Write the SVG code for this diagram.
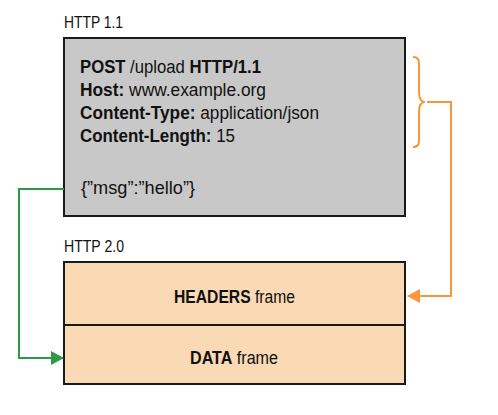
<svg xmlns="http://www.w3.org/2000/svg" width="498" height="415" viewBox="0 0 498 415">
<style>
text{font-family:"Liberation Sans",Arial,sans-serif;fill:#111}
.lbl{font-size:16px}
.body{font-size:16px}
.b{font-weight:bold}
.box{stroke:#1a1a1a;stroke-width:2}
.or{fill:none;stroke:#f7963a;stroke-width:2}
.gr{fill:none;stroke:#2e9a48;stroke-width:2}
</style>
<defs>
<marker id="ao" markerWidth="13" markerHeight="14" refX="12" refY="7" orient="auto" markerUnits="userSpaceOnUse"><path d="M0,0 L13,7 L0,14 z" fill="#f7963a"/></marker>
<marker id="ag" markerWidth="13" markerHeight="14" refX="12" refY="7" orient="auto" markerUnits="userSpaceOnUse"><path d="M0,0 L13,7 L0,14 z" fill="#2e9a48"/></marker>
</defs>
<rect width="498" height="415" fill="#fff"/>
<g id="http11">
<text class="lbl" x="64" y="28" textLength="59" lengthAdjust="spacingAndGlyphs">HTTP 1.1</text>
<rect class="box" x="64" y="38" width="341" height="178" fill="#c8c8c8"/>
<text class="body" transform="translate(80,73) scale(1,1.12)" x="0" y="0" textLength="181" lengthAdjust="spacingAndGlyphs"><tspan class="b">POST</tspan> /upload <tspan class="b">HTTP/1.1</tspan></text>
<text class="body" transform="translate(80,96) scale(1,1.12)" x="0" y="0" textLength="186" lengthAdjust="spacingAndGlyphs"><tspan class="b">Host:</tspan> www.example.org</text>
<text class="body" transform="translate(80,119) scale(1,1.12)" x="0" y="0" textLength="239" lengthAdjust="spacingAndGlyphs"><tspan class="b">Content-Type:</tspan> application/json</text>
<text class="body" transform="translate(80,142) scale(1,1.12)" x="0" y="0" textLength="155" lengthAdjust="spacingAndGlyphs"><tspan class="b">Content-Length:</tspan> 15</text>
<text class="body" transform="translate(81,194) scale(1,1.12)" x="0" y="0" textLength="114" lengthAdjust="spacingAndGlyphs">{”msg”:”hello”}</text>
</g>
<g id="http20">
<text class="lbl" x="64" y="252" textLength="60" lengthAdjust="spacingAndGlyphs">HTTP 2.0</text>
<rect class="box" x="64" y="262" width="341" height="122" fill="#fad9b5"/>
<line class="box" x1="64" y1="325" x2="405" y2="325"/>
</g>
<g id="headers">
<text class="body" transform="translate(174,303) scale(1,1.12)" x="0" y="0" textLength="121" lengthAdjust="spacingAndGlyphs"><tspan class="b">HEADERS</tspan> frame</text>
</g>
<g id="data">
<text class="body" transform="translate(190,364) scale(1,1.12)" x="0" y="0" textLength="88" lengthAdjust="spacingAndGlyphs"><tspan class="b">DATA</tspan> frame</text>
</g>
<g id="connectors">
<path class="or" d="M413,57 C420,57 419,62 419,70 L419,92 C419,99 421,102 425,102 C421,102 419,105 419,112 L419,134 C419,142 420,147 413,147"/>
<path class="or" d="M427,102 L451,102 L451,296 L408,296" marker-end="url(#ao)"/>
<path class="gr" d="M64,189 L19,189 L19,358 L63,358" marker-end="url(#ag)"/>
</g>
</svg>
